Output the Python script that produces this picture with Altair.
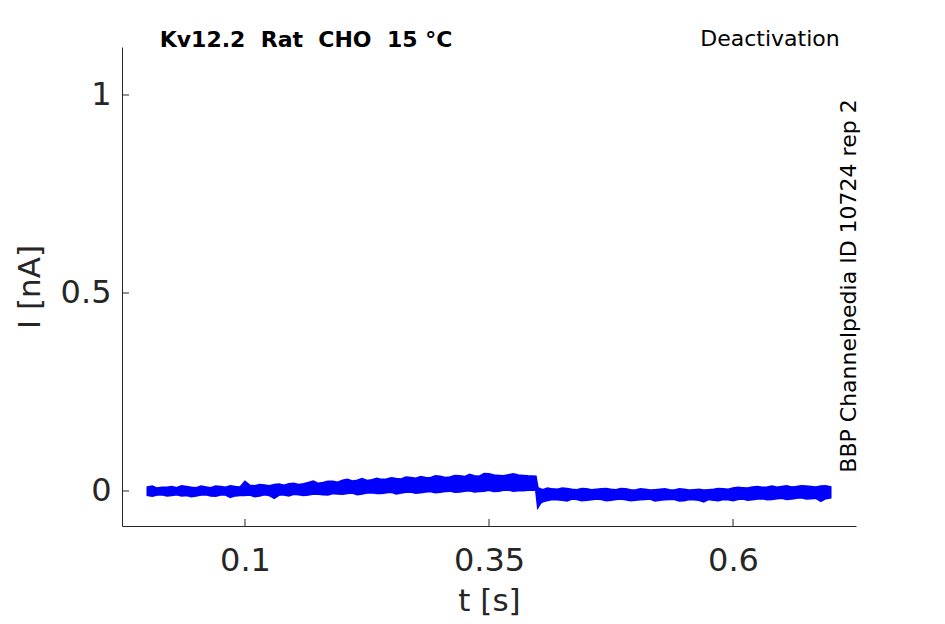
import altair as alt
import pandas as pd

# ---- data (two interleaved sample sets) ----
t_a = [0.00, 0.01, 0.02, 0.03, 0.04, 0.05, 0.06, 0.07, 0.08, 0.09,
       0.10, 0.11, 0.12, 0.13, 0.14, 0.15, 0.16, 0.17, 0.18, 0.19,
       0.20, 0.21, 0.22, 0.23, 0.24, 0.25, 0.26, 0.27, 0.28, 0.29,
       0.30, 0.31, 0.32, 0.33, 0.34, 0.35, 0.36, 0.37, 0.38, 0.39,
       0.398, 0.400, 0.403,
       0.41, 0.42, 0.43, 0.44, 0.45, 0.46, 0.47, 0.48, 0.49,
       0.50, 0.51, 0.52, 0.53, 0.54, 0.55, 0.56, 0.57, 0.58, 0.59,
       0.60, 0.61, 0.62, 0.63, 0.64, 0.65, 0.66, 0.67, 0.68, 0.69, 0.70]
hi_a = [0.010, 0.007, 0.009, 0.008, 0.011, 0.008, 0.010, 0.012, 0.009, 0.011,
        0.024, 0.013, 0.015, 0.016, 0.014, 0.019, 0.018, 0.025, 0.021, 0.024,
        0.027, 0.025, 0.031, 0.028, 0.029, 0.033, 0.030, 0.034, 0.036, 0.033,
        0.037, 0.035, 0.038, 0.042, 0.037, 0.043, 0.039, 0.041, 0.040, 0.038,
        0.037, 0.008, 0.005,
        0.007, 0.004, 0.006, 0.003, 0.005, 0.004, 0.006, 0.003, 0.005,
        0.002, 0.004, 0.003, 0.005, 0.002, 0.004, 0.003, 0.002, 0.004, 0.005,
        0.007, 0.008, 0.010, 0.009, 0.012, 0.011, 0.010, 0.013, 0.011, 0.012, 0.010]
lo_a = [-0.011, -0.010, -0.012, -0.009, -0.011, -0.012, -0.009, -0.013, -0.010, -0.012,
        -0.011, -0.014, -0.009, -0.018, -0.010, -0.008, -0.011, -0.007, -0.009, -0.006,
        -0.008, -0.005, -0.007, -0.004, -0.006, -0.003, -0.005, -0.002, -0.004, -0.001,
        -0.003, 0.000, -0.002, 0.001, -0.001, 0.002, 0.000, 0.003, 0.001, 0.002,
        0.003, -0.042, -0.030,
        -0.024, -0.022, -0.025, -0.021, -0.023, -0.020, -0.024, -0.021, -0.022,
        -0.023, -0.021, -0.025, -0.022, -0.021, -0.024, -0.022, -0.027, -0.023, -0.021,
        -0.024, -0.020, -0.022, -0.019, -0.021, -0.018, -0.020, -0.017, -0.019, -0.026, -0.017]

t_b = [0.005, 0.015, 0.025, 0.035, 0.045, 0.055, 0.065, 0.075, 0.085, 0.095,
       0.105, 0.115, 0.125, 0.135, 0.145, 0.155, 0.165, 0.175, 0.185, 0.195,
       0.205, 0.215, 0.225, 0.235, 0.245, 0.255, 0.265, 0.275, 0.285, 0.295,
       0.305, 0.315, 0.325, 0.335, 0.345, 0.355, 0.365, 0.375, 0.385,
       0.405, 0.415, 0.425, 0.435, 0.445, 0.455, 0.465, 0.475, 0.485, 0.495,
       0.505, 0.515, 0.525, 0.535, 0.545, 0.555, 0.565, 0.575, 0.585, 0.595,
       0.605, 0.615, 0.625, 0.635, 0.645, 0.655, 0.665, 0.675, 0.685, 0.695]
hi_b = [0.012, 0.009, 0.011, 0.013, 0.009, 0.012, 0.008, 0.011, 0.013, 0.010,
        0.014, 0.016, 0.013, 0.017, 0.018, 0.016, 0.021, 0.019, 0.024, 0.022,
        0.029, 0.027, 0.026, 0.032, 0.030, 0.031, 0.035, 0.032, 0.034, 0.038,
        0.034, 0.039, 0.036, 0.038, 0.044, 0.040, 0.038, 0.043, 0.039,
        0.003, 0.005, 0.007, 0.004, 0.006, 0.003, 0.005, 0.004, 0.006, 0.003,
        0.005, 0.002, 0.004, 0.003, 0.005, 0.002, 0.004, 0.003, 0.006, 0.004,
        0.009, 0.007, 0.011, 0.010, 0.009, 0.013, 0.011, 0.012, 0.010, 0.013]
lo_b = [-0.013, -0.009, -0.011, -0.012, -0.014, -0.010, -0.012, -0.010, -0.016, -0.011,
        -0.010, -0.012, -0.011, -0.010, -0.012, -0.009, -0.010, -0.008, -0.010, -0.007,
        -0.006, -0.009, -0.005, -0.006, -0.004, -0.007, -0.003, -0.005, -0.002, -0.004,
        -0.001, -0.003, 0.000, -0.002, 0.000, -0.001, 0.002, 0.000, 0.001,
        -0.027, -0.021, -0.023, -0.020, -0.024, -0.022, -0.021, -0.023, -0.020, -0.024,
        -0.022, -0.020, -0.023, -0.021, -0.025, -0.021, -0.023, -0.021, -0.024, -0.022,
        -0.021, -0.023, -0.020, -0.022, -0.019, -0.021, -0.018, -0.020, -0.018, -0.019]

x_ticks = [0.1, 0.35, 0.6]
y_ticks = [0, 0.5, 1]
x_domain = [-0.026, 0.726]
y_domain = [-0.0884, 1.1212]

NB = "\u00a0"
title_left = f"Kv12.2 {NB}Rat {NB}CHO {NB}15 °C"
title_right = "Deactivation"
side_label = "BBP Channelpedia ID 10724 rep 2"

W, H = 734, 479
INK = "#262626"
FONT = "DejaVu Sans"

df = pd.concat([
    pd.DataFrame({"t": t_a, "hi": hi_a, "lo": lo_a}),
    pd.DataFrame({"t": t_b, "hi": hi_b, "lo": lo_b}),
]).sort_values("t")
xt = pd.DataFrame({"v": x_ticks})
yt = pd.DataFrame({"v": y_ticks})

xs = alt.Scale(domain=x_domain, nice=False, zero=False)
ys = alt.Scale(domain=y_domain, nice=False, zero=False)

band = alt.Chart(df).mark_area(color="#0000ff", stroke="#0000ff", strokeWidth=1.8,
                               opacity=1).encode(
    x=alt.X("t:Q", scale=xs, title="t [s]",
            axis=alt.Axis(values=x_ticks, format="~g", ticks=False, grid=False,
                          labelFontSize=32, titleFontSize=31, labelPadding=19,
                          titlePadding=10, domainColor=INK, labelColor=INK,
                          titleColor=INK, labelFont=FONT, titleFont=FONT,
                          titleFontWeight="normal")),
    y=alt.Y("hi:Q", scale=ys, title="I [nA]",
            axis=alt.Axis(values=y_ticks, format="~g", ticks=False, grid=False,
                          labelFontSize=32, titleFontSize=31, labelPadding=11,
                          titlePadding=14, domainColor=INK, labelColor=INK,
                          titleColor=INK, labelFont=FONT, titleFont=FONT,
                          titleFontWeight="normal")),
    y2="lo:Q",
)

xtick = alt.Chart(xt).mark_rule(color=INK, strokeWidth=1).encode(
    x=alt.X("v:Q", scale=xs), y=alt.value(H - 7), y2=alt.value(H))
ytick = alt.Chart(yt).mark_rule(color=INK, strokeWidth=1).encode(
    y=alt.Y("v:Q", scale=ys), x=alt.value(0), x2=alt.value(7))

t1 = alt.Chart(pd.DataFrame({"s": [title_left]})).mark_text(
    font=FONT, fontSize=22, fontWeight="bold", color="black",
    align="center", baseline="alphabetic").encode(
    text="s:N", x=alt.value(184), y=alt.value(0))
t2 = alt.Chart(pd.DataFrame({"s": [title_right]})).mark_text(
    font=FONT, fontSize=22, color="black",
    align="center", baseline="alphabetic").encode(
    text="s:N", x=alt.value(648), y=alt.value(-1))
t3 = alt.Chart(pd.DataFrame({"s": [side_label]})).mark_text(
    font=FONT, fontSize=22, color="black", angle=270,
    align="center", baseline="middle").encode(
    text="s:N", x=alt.value(727), y=alt.value(239))

chart = alt.layer(band, xtick, ytick, t1, t2, t3).properties(
    width=W, height=H,
    autosize=alt.AutoSizeParams(type="none"),
    padding={"left": 114, "top": 39, "right": 60, "bottom": 90},
).configure_view(stroke=None).configure_axis(domainWidth=1)

chart.save("out.html", embed_options={"renderer": "svg", "actions": False})
